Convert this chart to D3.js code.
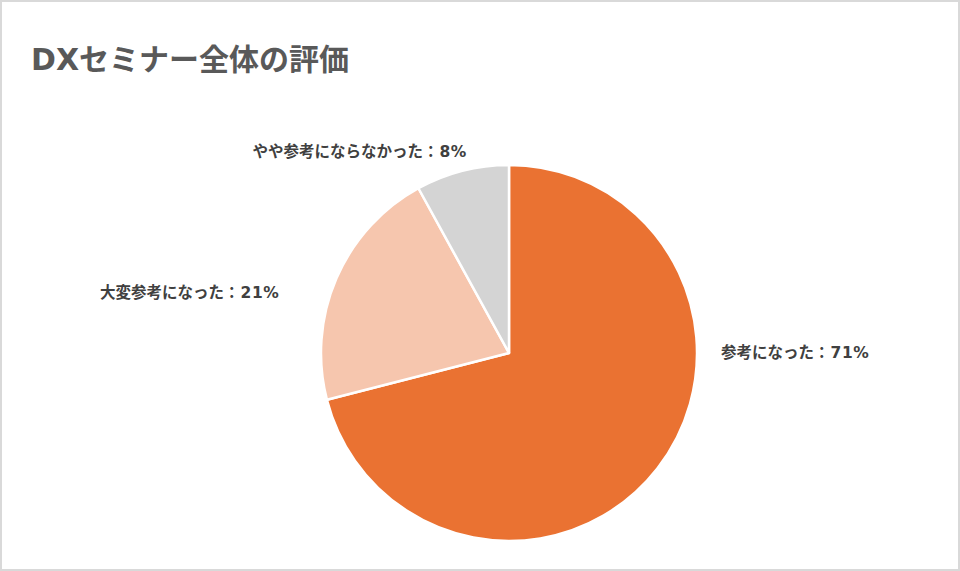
<!DOCTYPE html>
<html>
<head>
<meta charset="utf-8">
<script src="https://cdn.jsdelivr.net/npm/d3@7"></script>
<style>
  body { margin:0; background:#fff; }
  svg text { font-family:"DejaVu Sans","Noto Sans CJK JP",sans-serif; }
</style>
</head>
<body>
<div class="chart"></div>
<script>
const categories = ['参考になった', '大変参考になった', 'やや参考にならなかった'];
const values = [71, 21, 8];
const colors = ['#EA7232', '#F6C6AE', '#D4D4D4'];

// label placement (x, y, anchor) per slice, as Excel put them
const labelLayout = [
    { x:721, y:353, anchor:'start' },
    { x:100, y:293, anchor:'start' },
    { x:467, y:152, anchor:'end' }
];

const W = 960, H = 571;
const cx = 509, cy = 353, radius = 188;

const svg = d3.select('.chart').append('svg')
    .attr('width', W)
    .attr('height', H);

svg.append('rect')
    .attr('x', 1).attr('y', 1)
    .attr('width', W - 2).attr('height', H - 2)
    .attr('fill', '#fff')
    .attr('stroke', '#d9d9d9')
    .attr('stroke-width', 2);

svg.append('text')
    .attr('x', 31)
    .attr('y', 70)
    .attr('font-size', 30)
    .attr('font-weight', 'bold')
    .attr('fill', '#595959')
    .text('DXセミナー全体の評価');

const data = categories.map((c, i) => ({ name:c, value:values[i], color:colors[i] }));

const pie = d3.pie().sort(null).value(d => d.value);
const arc = d3.arc().innerRadius(0).outerRadius(radius);

const g = svg.append('g')
    .attr('transform', `translate(${cx},${cy})`);

g.selectAll('path')
    .data(pie(data))
    .enter()
    .append('path')
    .attr('d', arc)
    .attr('fill', d => d.data.color)
    .attr('stroke', '#fff')
    .attr('stroke-width', 2.5)
    .attr('stroke-linejoin', 'round');

const lbl = svg.selectAll('.lbl')
    .data(data)
    .enter()
    .append('text')
    .attr('class', 'lbl')
    .attr('x', (d, i) => labelLayout[i].x)
    .attr('y', (d, i) => labelLayout[i].y)
    .attr('dy', '0.35em')
    .attr('text-anchor', (d, i) => labelLayout[i].anchor)
    .attr('font-size', 15.5)
    .attr('font-weight', 'bold')
    .attr('fill', '#404040');

lbl.append('tspan').text(d => `${d.name}：`);
lbl.append('tspan')
    .attr('dx', 1)
    .attr('letter-spacing', 0.6)
    .text(d => `${d.value}%`);
</script>
</body>
</html>
